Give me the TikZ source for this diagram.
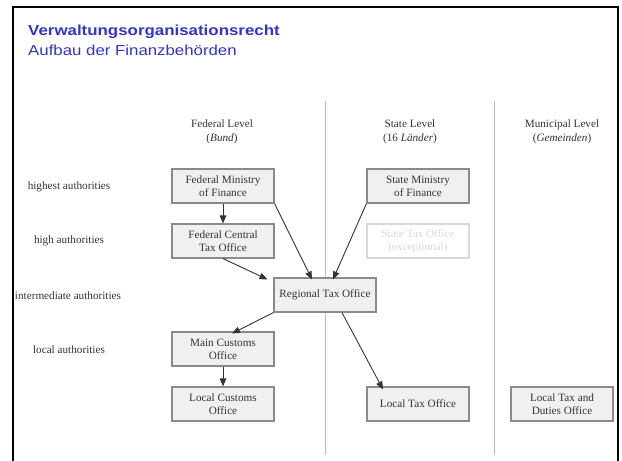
\documentclass[tikz,border=0pt]{standalone}
\usepackage{fontspec}
\setmainfont{Liberation Serif}
\newfontfamily\titlefont{Liberation Sans}
\usetikzlibrary{arrows.meta}
\definecolor{titleblue}{HTML}{3333CC}
\definecolor{boxfill}{HTML}{F0F0F0}
\definecolor{boxline}{HTML}{8A8A8A}
\definecolor{faint}{HTML}{D8D8D8}
\definecolor{sepline}{HTML}{BBBBBB}
\tikzset{
  office/.style={draw=boxline, line width=1.1pt, fill=boxfill, minimum width=102pt, minimum height=34pt, align=center, inner sep=1pt, font=\fontsize{11.2}{13}\selectfont, text=black!80},
  faintoffice/.style={office, draw=faint, fill=white, text=faint},
  rowlabel/.style={font=\fontsize{11.2}{13}\selectfont, text=black!80},
  colhead/.style={align=center, font=\fontsize{11.2}{14}\selectfont, text=black!80},
  conn/.style={draw=black!80, line width=0.9pt, -{Triangle[length=8pt,width=6.5pt]}},
  titletext/.style={anchor=base west, inner sep=0, text=titleblue},
}
\begin{document}
\begin{tikzpicture}[x=1pt,y=-1pt]
\useasboundingbox (0,0) rectangle (622,461);
% frame
\draw[line width=2.5pt] (13,470) -- (13,7) -- (618,7) -- (618,470);
% title
\node[titletext, font=\titlefont\bfseries\fontsize{14.5}{16}\selectfont] (title) at (28,35.5) {\scalebox{1.165}[1]{Verwaltungsorganisationsrecht}};
\node[titletext, font=\titlefont\fontsize{14.5}{16}\selectfont] (subtitle) at (28,55.5) {\scalebox{1.16}[1]{Aufbau der Finanzbehörden}};
% separators
\draw[sepline, line width=1pt] (325,101) -- (325,455);
\draw[sepline, line width=1pt] (494,101) -- (494,455);
% column heads
\node[colhead] (hfed) at (222,132) {Federal Level\\(\textit{Bund})};
\node[colhead] (hstate) at (410,132) {State Level\\(16 \textit{Länder})};
\node[colhead] (hmun) at (562,132) {Municipal Level\\(\textit{Gemeinden})};
% row labels
\node[rowlabel] (r1) at (69,187) {highest authorities};
\node[rowlabel] (r2) at (69,241) {high authorities};
\node[rowlabel] (r3) at (68,296) {intermediate authorities};
\node[rowlabel] (r4) at (69,350) {local authorities};
% boxes
\node[office] (fmf) at (223,186) {Federal Ministry\\of Finance};
\node[office] (fcto) at (223,241) {Federal Central\\Tax Office};
\node[office] (rto) at (325,295) {Regional Tax Office};
\node[office] (mco) at (223,349) {Main Customs\\Office};
\node[office] (lco) at (223,404) {Local Customs\\Office};
\node[office] (smf) at (418,186) {State Ministry\\of Finance};
\node[faintoffice] (sto) at (418,241) {State Tax Office\\(exceptional)};
\node[office] (lto) at (418,404) {Local Tax Office};
\node[office] (ltdo) at (562,404) {Local Tax and\\Duties Office};
% connectors
\draw[conn] (fmf.south) -- (fcto.north);
\draw[conn] (fmf.south east) -- ([xshift=-13pt,yshift=-2pt]rto.north);
\draw[conn] ([xshift=0pt]fcto.south) -- ([xshift=-6pt,yshift=-2pt]rto.north west);
\draw[conn] (smf.south west) -- ([xshift=8pt,yshift=-2pt]rto.north);
\draw[conn] (rto.south west) -- ([xshift=9pt,yshift=-2pt]mco.north);
\draw[conn] ([xshift=17pt]rto.south) -- ([xshift=-35pt,yshift=-3pt]lto.north);
\draw[conn] (mco.south) -- (lco.north);
\end{tikzpicture}
\end{document}
